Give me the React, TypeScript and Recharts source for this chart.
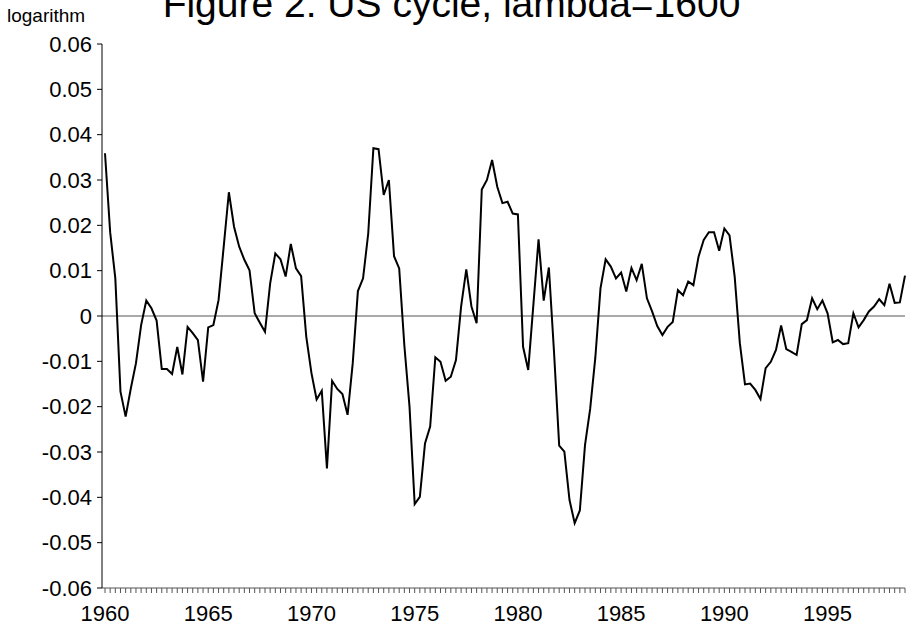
import { CartesianGrid, Line, LineChart, ReferenceLine, XAxis, YAxis } from 'recharts';

// quarterly cycle component, 1960Q1 - 1998Q4
const startYear = 1960;
const endYear = 1998;
const labelYears = [1960, 1965, 1970, 1975, 1980, 1985, 1990, 1995];
const yTicks = [-0.06, -0.05, -0.04, -0.03, -0.02, -0.01, 0, 0.01, 0.02, 0.03, 0.04, 0.05, 0.06];

const cycle = [
  0.0359, 0.0185, 0.0083, -0.0167, // 1960
  -0.0222, -0.0160, -0.0104, -0.0020, // 1961
  0.0034, 0.0017, -0.0010, -0.0117, // 1962
  -0.0117, -0.0128, -0.0068, -0.0129, // 1963
  -0.0024, -0.0038, -0.0053, -0.0145, // 1964
  -0.0025, -0.0020, 0.0035, 0.0153, // 1965
  0.0273, 0.0197, 0.0153, 0.0124, // 1966
  0.0101, 0.0006, -0.0015, -0.0035, // 1967
  0.0072, 0.0138, 0.0125, 0.0087, // 1968
  0.0159, 0.0105, 0.0088, -0.0046, // 1969
  -0.0126, -0.0184, -0.0165, -0.0336, // 1970
  -0.0143, -0.0161, -0.0172, -0.0218, // 1971
  -0.0104, 0.0055, 0.0083, 0.0182, // 1972
  0.0370, 0.0368, 0.0267, 0.0300, // 1973
  0.0132, 0.0105, -0.0065, -0.0200, // 1974
  -0.0415, -0.0399, -0.0281, -0.0244, // 1975
  -0.0091, -0.0101, -0.0143, -0.0134, // 1976
  -0.0097, 0.0021, 0.0103, 0.0021, // 1977
  -0.0016, 0.0279, 0.0300, 0.0344, // 1978
  0.0285, 0.0249, 0.0252, 0.0226, // 1979
  0.0224, -0.0068, -0.0119, 0.0025, // 1980
  0.0169, 0.0034, 0.0107, -0.0080, // 1981
  -0.0286, -0.0299, -0.0406, -0.0457, // 1982
  -0.0429, -0.0285, -0.0205, -0.0092, // 1983
  0.0061, 0.0125, 0.0109, 0.0083, // 1984
  0.0096, 0.0054, 0.0106, 0.0079, // 1985
  0.0115, 0.0039, 0.0010, -0.0022, // 1986
  -0.0042, -0.0024, -0.0013, 0.0057, // 1987
  0.0046, 0.0076, 0.0068, 0.0131, // 1988
  0.0168, 0.0185, 0.0185, 0.0144, // 1989
  0.0193, 0.0178, 0.0087, -0.0060, // 1990
  -0.0151, -0.0149, -0.0163, -0.0183, // 1991
  -0.0115, -0.0101, -0.0075, -0.0021, // 1992
  -0.0073, -0.0079, -0.0086, -0.0018, // 1993
  -0.0009, 0.0039, 0.0015, 0.0034, // 1994
  0.0006, -0.0058, -0.0053, -0.0062, // 1995
  -0.0060, 0.0006, -0.0025, -0.0009, // 1996
  0.0010, 0.0021, 0.0037, 0.0024, // 1997
  0.0071, 0.0029, 0.0030, 0.0089, // 1998
];

const quarters: string[] = [];
for (let y = startYear; y <= endYear; y++) {
  for (let q = 1; q <= 4; q++) quarters.push(`${y}Q${q}`);
}

const data = quarters.map((q, i) => ({ q, value: cycle[i] }));

const font = '"Liberation Sans", Arial, sans-serif';

function YearTick({ x, y, payload }: any) {
  const [yr, qt] = String(payload.value).split('Q');
  if (qt !== '1' || !labelYears.includes(Number(yr))) return null;
  return (
    <text x={x} y={y + 26} textAnchor="middle" fill="#000" fontSize={22} fontFamily={font}>
      {yr}
    </text>
  );
}

const fmt = (v: number) => (v === 0 ? '0' : v.toFixed(2));

export default function App() {
  return (
    <div style={{ position: 'absolute', left: 0, top: 0, width: 913, height: 630, overflow: 'hidden', background: '#fff' }}>
      <div
        style={{
          position: 'absolute', left: 0, width: 913, top: -16, textAlign: 'center',
          fontFamily: font, fontSize: 39, lineHeight: '39px', color: '#000',
        }}
      >
        <span style={{ position: 'relative', left: -5 }}>Figure 2: US cycle, lambda=1600</span>
      </div>
      <div style={{ position: 'absolute', left: 7, top: 5, fontFamily: font, fontSize: 19, color: '#000' }}>
        logarithm
      </div>
      <LineChart width={913} height={630} data={data} margin={{ top: 44, right: 8, bottom: 0, left: 0 }}>
        <CartesianGrid horizontal={false} vertical={false} />
        <XAxis
          dataKey="q"
          interval={0}
          height={42}
          padding={{ left: 3, right: 0 }}
          tick={<YearTick />}
          tickSize={5}
          axisLine={{ stroke: '#555' }}
          tickLine={{ stroke: '#555' }}
        />
        <YAxis
          domain={[-0.06, 0.06]}
          ticks={yTicks}
          tickFormatter={fmt}
          width={102}
          tickSize={5}
          tickMargin={5}
          axisLine={{ stroke: '#000' }}
          tickLine={{ stroke: '#000' }}
          tick={{ fill: '#000', fontSize: 22, fontFamily: font }}
          allowDataOverflow
        />
        <ReferenceLine y={0} stroke="#555" strokeWidth={1} />
        <Line
          type="linear"
          dataKey="value"
          stroke="#000"
          strokeWidth={2}
          dot={false}
          isAnimationActive={false}
        />
      </LineChart>
    </div>
  );
}
